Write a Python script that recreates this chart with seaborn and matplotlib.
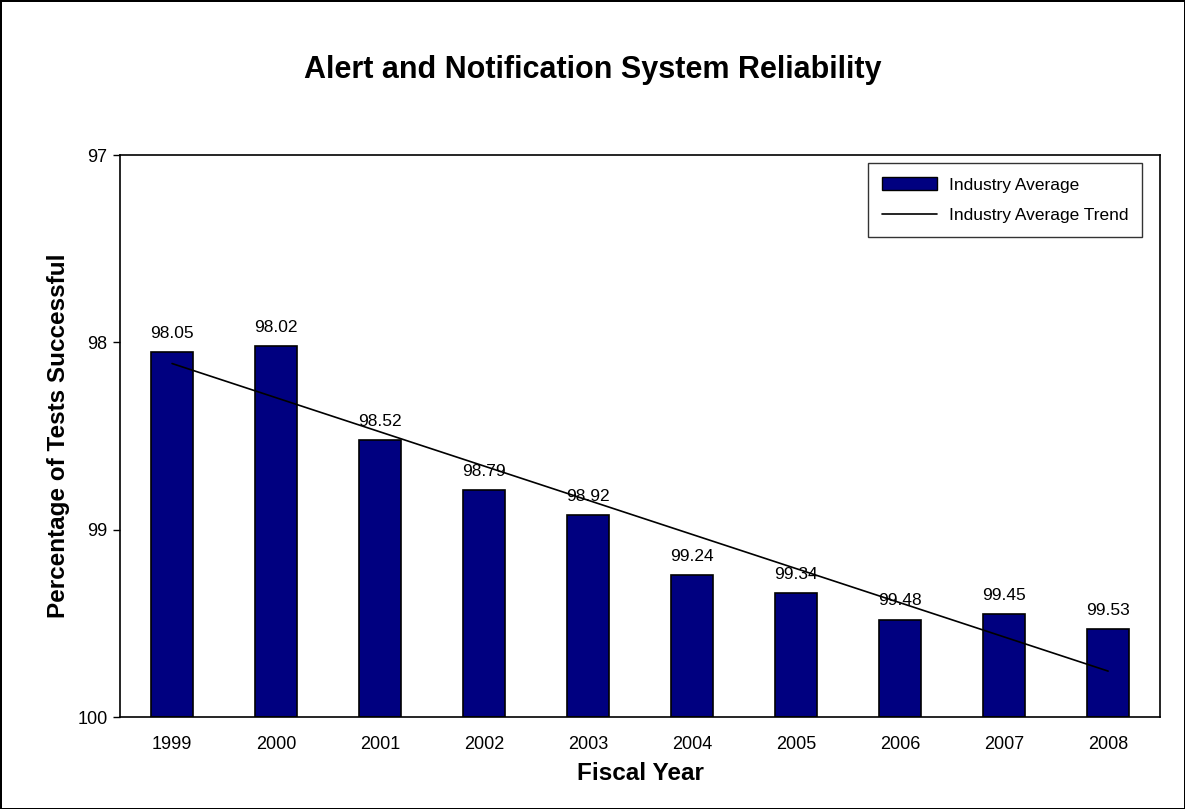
import seaborn as sns
import matplotlib.pyplot as plt
from matplotlib.patches import Patch
from matplotlib.lines import Line2D
import numpy as np

# Data
years = ['1999', '2000', '2001', '2002', '2003', '2004', '2005', '2006', '2007', '2008']
reliability = [98.05, 98.02, 98.52, 98.79, 98.92, 99.24, 99.34, 99.48, 99.45, 99.53]
y_ticks = [97, 98, 99, 100]

sns.set_style('white')
plt.rcParams['font.family'] = ['Liberation Sans', 'DejaVu Sans']
plt.rcParams['text.color'] = 'black'
plt.rcParams['axes.labelcolor'] = 'black'
plt.rcParams['xtick.color'] = 'black'
plt.rcParams['ytick.color'] = 'black'

fig = plt.figure(figsize=(11.85, 8.09), dpi=100)
fig.patch.set_edgecolor('black')
fig.patch.set_linewidth(2)
ax = fig.add_axes([0.1013, 0.1137, 0.8777, 0.6947])

# bars hang from 100 up to the value (axis is inverted)
heights = [v - 100 for v in reliability]
sns.barplot(x=years, y=heights, bottom=100, color='#000080', saturation=1,
            edgecolor='black', linewidth=1.2, width=0.41, errorbar=None, ax=ax)

# linear trend line
pos = np.arange(len(years))
sns.regplot(x=pos, y=reliability, scatter=False, ci=None, truncate=True,
            line_kws={'color': 'black', 'linewidth': 1.2}, ax=ax)

for i, v in enumerate(reliability):
    ax.annotate('{:.2f}'.format(v), (i, v), xytext=(0, 8), textcoords='offset points',
                ha='center', va='bottom', fontsize=12.5)

ax.set_ylim(100, 97)
ax.set_xlim(-0.5, 9.5)
ax.set_yticks(y_ticks)
ax.set_yticklabels([str(t) for t in y_ticks], fontsize=13)
ax.tick_params(axis='y', direction='out', length=5, width=1, left=True, pad=4)
ax.tick_params(axis='x', length=0, labelsize=13, pad=14)
for s in ax.spines.values():
    s.set_color('black')
    s.set_linewidth(1.2)

ax.set_xlabel('Fiscal Year', fontsize=17.5, fontweight='bold', labelpad=6)
ax.set_ylabel('Percentage of Tests Successful', fontsize=17.5, fontweight='bold', labelpad=5)
fig.suptitle('Alert and Notification System Reliability', fontsize=22, fontweight='bold', y=0.932)

handles = [Patch(facecolor='#000080', edgecolor='black', label='Industry Average'),
           Line2D([0], [0], color='black', linewidth=1.2, label='Industry Average Trend')]
leg = ax.legend(handles=handles, loc='upper right', bbox_to_anchor=(0.9827, 0.9858),
                borderaxespad=0, fontsize=12.5, frameon=True, fancybox=False,
                borderpad=0.8, labelspacing=0.85, handlelength=3.2, handleheight=0.8,
                handletextpad=0.65)
leg.get_frame().set_edgecolor('black')
leg.get_frame().set_linewidth(1.0)

fig.savefig('out.png', dpi=100)
